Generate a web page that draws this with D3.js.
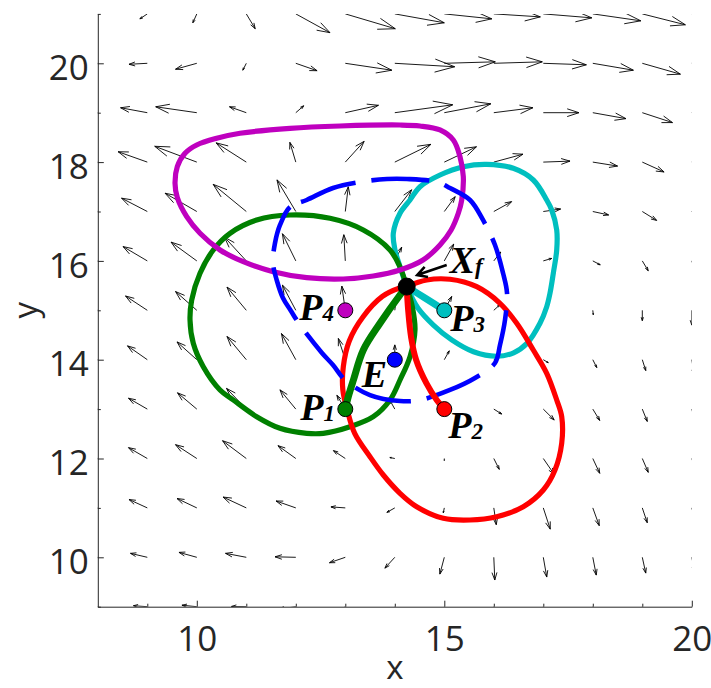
<!DOCTYPE html>
<html>
<head>
<meta charset="utf-8">
<script src="https://cdn.jsdelivr.net/npm/d3@7/dist/d3.min.js"></script>
<style>
  html, body { margin: 0; padding: 0; background: #fff; }
  svg { display: block; }
</style>
</head>
<body>
<svg id="chart" width="711" height="688"></svg>
<script>
// ---- grid of the vector field ----
const gridX = [8, 9, 10, 11, 12, 13, 14, 15, 16, 17, 18, 19, 20];
const gridY = [21, 20, 19, 18, 17, 16, 15, 14, 13, 12, 11, 10, 9];   // top row first

// arrow components (drawn length, data units), one row per gridY value
const arrowU = [
  [-0.15,-0.15,-0.08, 0.18, 0.69, 1.01, 1.00, 0.96, 0.94, 0.98, 0.97, 0.87, 0.80],
  [-0.30,-0.37,-0.43,-0.07, 0.43, 0.94, 1.21, 1.03, 0.98, 0.87, 0.82, 0.77, 0.70],
  [-0.50,-0.54,-0.83,-0.34, 0.16, 0.67, 1.17, 0.94, 0.79, 0.72, 0.67, 0.61, 0.55],
  [-0.55,-0.59,-0.85,-0.61,-0.12, 0.38, 0.73, 0.65, 0.59, 0.54, 0.50, 0.44, 0.40],
  [-0.50,-0.52,-0.64,-0.67,-0.38, 0.06, 0.34, 0.22, 0.36, 0.35, 0.32, 0.29, 0.25],
  [-0.45,-0.49,-0.52,-0.44,-0.27,-0.03, 0.14, 0.19, 0.14, 0.17, 0.15, 0.12, 0.10],
  [-0.45,-0.44,-0.43,-0.39,-0.27,-0.07, 0.02, 0.15, 0.12, 0.06, 0.01, 0.00, 0.00],
  [-0.40,-0.40,-0.40,-0.39,-0.29,-0.14, 0.00, 0.10, 0.08, 0.10, 0.08, 0.07, 0.05],
  [-0.40,-0.38,-0.39,-0.40,-0.32,-0.17,-0.10, 0.02, 0.16, 0.22, 0.14, 0.10, 0.08],
  [-0.40,-0.38,-0.43,-0.48,-0.36,-0.24,-0.10, 0.00, 0.11, 0.22, 0.14, 0.12, 0.10],
  [-0.35,-0.37,-0.40,-0.47,-0.40,-0.29,-0.16,-0.02, 0.05, 0.14, 0.13, 0.10, 0.08],
  [-0.35,-0.34,-0.36,-0.42,-0.42,-0.32,-0.20,-0.09, 0.02, 0.07, 0.07, 0.07, 0.06],
  [-0.30,-0.28,-0.30,-0.30,-0.35,-0.30,-0.20,-0.10, 0.02, 0.04, 0.05, 0.05, 0.05]
];
const arrowV = [
  [ 0.10,-0.10,-0.18,-0.30,-0.38,-0.30,-0.18,-0.10,-0.06,-0.08,-0.14,-0.22,-0.25],
  [ 0.02,-0.02,-0.12,-0.14,-0.15,-0.14,-0.07, 0.03, 0.03,-0.03,-0.14,-0.22,-0.28],
  [ 0.10, 0.10, 0.12, 0.12, 0.14, 0.15, 0.16, 0.18, 0.10, 0.00,-0.12,-0.20,-0.30],
  [ 0.20, 0.21, 0.32, 0.39, 0.40, 0.42, 0.36, 0.31, 0.16, 0.02,-0.08,-0.20,-0.30],
  [ 0.25, 0.27, 0.37, 0.55, 0.64, 0.50, 0.44, 0.30, 0.20, 0.05,-0.07,-0.18,-0.30],
  [ 0.30, 0.29, 0.38, 0.48, 0.55, 0.53, 0.28, 0.34, 0.18, 0.05,-0.08,-0.20,-0.30],
  [ 0.30, 0.29, 0.38, 0.47, 0.51, 0.49, 0.16, 0.28, 0.11, 0.02,-0.09,-0.21,-0.30],
  [ 0.30, 0.28, 0.36, 0.47, 0.53, 0.43, 0.30, 0.18, 0.04,-0.06,-0.16,-0.22,-0.30],
  [ 0.25, 0.22, 0.33, 0.42, 0.39, 0.28, 0.18, 0.04,-0.10,-0.22,-0.23,-0.25,-0.30],
  [ 0.20, 0.22, 0.28, 0.36, 0.26, 0.16, 0.02,-0.04,-0.22,-0.32,-0.30,-0.28,-0.30],
  [ 0.15, 0.17, 0.19, 0.22, 0.14, 0.02,-0.09,-0.10,-0.34,-0.43,-0.36,-0.30,-0.30],
  [ 0.08, 0.08, 0.10, 0.08, 0.01,-0.11,-0.22,-0.34,-0.46,-0.40,-0.36,-0.32,-0.30],
  [ 0.02, 0.02, 0.03, 0.005,-0.05,-0.20,-0.30,-0.40,-0.45,-0.45,-0.40,-0.35,-0.30]
];

// ---- boundary curves [x, y] ----
const loopMagenta = [
  [14.105,18.751],[12.893,18.731],[11.883,18.684],[10.873,18.583],[10.402,18.482],
  [9.998,18.346],[9.762,18.178],[9.606,17.907],[9.560,17.571],[9.606,17.282],
  [9.796,16.895],[10.065,16.559],[10.469,16.221],[10.939,15.984],[11.545,15.781],
  [12.220,15.660],[12.960,15.634],[13.566,15.694],[14.105,15.816],[14.570,16.018],
  [14.913,16.322],[15.135,16.620],[15.283,16.964],[15.352,17.233],[15.384,17.704],
  [15.317,18.109],[15.182,18.447],[14.913,18.650],[14.509,18.731]
];
const loopGreen = [
  [14.24,15.48],[14.105,15.877],[13.903,16.221],[13.364,16.626],[12.691,16.862],
  [11.883,16.929],[11.210,16.828],[10.671,16.559],[10.333,16.221],[10.065,15.749],
  [9.897,15.209],[9.863,14.804],[9.929,14.332],[10.131,13.858],[10.469,13.387],
  [10.737,13.184],[11.210,12.846],[11.681,12.611],[12.220,12.510],[12.556,12.510],
  [13.095,12.644],[13.566,12.846],[13.903,13.184],[14.105,13.589],[14.307,14.061],
  [14.408,14.601],[14.354,15.073],[14.24,15.48]
];
const loopRed = [
  [14.24,15.48],[14.644,15.613],[15.115,15.628],[15.655,15.478],[16.125,15.142],
  [16.463,14.737],[16.798,14.196],[17.069,13.725],[17.271,13.184],[17.372,12.846],
  [17.372,12.308],[17.236,11.767],[17.000,11.362],[16.596,11.024],[16.059,10.822],
  [15.519,10.755],[14.980,10.789],[14.442,11.024],[14.105,11.296],[13.768,11.666],
  [13.499,12.036],[13.19,12.51],[13.04,12.98],[12.95,13.39],[12.96,13.86],
  [13.08,14.38],[13.36,14.87],[13.75,15.28],[14.10,15.45],[14.24,15.48]
];
const loopCyan = [
  [14.24,15.48],[14.47,15.04],[14.78,14.70],[15.15,14.40],[15.59,14.16],
  [16.06,14.07],[16.40,14.14],[16.67,14.33],[16.933,14.737],[17.069,15.073],
  [17.135,15.344],[17.202,15.749],[17.271,16.221],[17.271,16.626],[17.170,17.030],
  [17.069,17.233],[16.798,17.638],[16.394,17.874],[15.857,17.955],[15.384,17.907],
  [14.913,17.739],[14.509,17.502],[14.307,17.233],[14.105,16.964],[13.970,16.559],
  [14.004,16.221],[14.105,15.883],[14.24,15.48]
];
const loopBlue = [
  [12.220,17.233],[11.883,17.091],[11.681,16.727],[11.580,16.362],[11.539,15.957],
  [11.620,15.593],[11.741,15.249],[11.903,14.986],[12.085,14.702],[12.529,14.136],
  [12.752,13.893],[12.994,13.589],[13.499,13.285],[14.105,13.164],[14.509,13.184],
  [15.115,13.387],[15.620,13.630],[16.024,13.933],[16.125,14.298],[16.226,14.804],
  [16.267,15.350],[16.186,15.755],[16.024,16.322],[15.782,16.828],[15.519,17.233],
  [15.115,17.476],[14.853,17.597],[14.246,17.658],[13.842,17.658],[13.297,17.597],
  [12.752,17.476]
];

// ---- trajectories into X_f ----
const pathGreen = [[13,13],[13.06,13.25],[13.164,13.589],[13.364,14.196],[13.701,14.737],[14.105,15.310],[14.24,15.48]];
const pathRed   = [[14.24,15.48],[14.27,15.0],[14.33,14.45],[14.43,14.0],[14.64,13.52],[14.85,13.18],[15,13]];
const pathCyan  = [[14.24,15.48],[14.61,15.25],[15,15]];

// ---- labelled points ----
const pointNames = ["P1", "P2", "P3", "P4", "E", "Xf"];
const pointX = [13, 15, 15, 13, 14, 14.24];
const pointY = [13, 13, 15, 15, 14, 15.48];

// ---- axis ticks ----
const xTicks = [10, 15, 20];
const xMinorTicks = [9, 11, 12, 13, 14, 16, 17, 18, 19];
const yTicks = [10, 12, 14, 16, 18, 20];
const yMinorTicks = [9, 11, 13, 15, 17, 19, 21];

// ---------------------------------------------------------------
const svg = d3.select("#chart");
const x = d3.scaleLinear().domain([8, 20]).range([97.8, 691.8]);
const y = d3.scaleLinear().domain([9, 21]).range([606.7, 13.9]);

svg.append("defs").append("clipPath").attr("id", "plotClip")
  .append("rect")
  .attr("x", x(8)).attr("y", y(21))
  .attr("width", x(20) - x(8)).attr("height", y(9) - y(21));

const plot = svg.append("g").attr("clip-path", "url(#plotClip)");

// vector field: shaft plus two-stroke open head
const arrows = [];
gridY.forEach((gy, i) => gridX.forEach((gx, j) => {
  arrows.push({ gx, gy, u: arrowU[i][j], v: arrowV[i][j] });
}));
const alpha = 0.33, beta = 0.33;
plot.append("g").selectAll("path").data(arrows).join("path")
  .attr("d", a => {
    const tx = a.gx + a.u, ty = a.gy + a.v;
    const h1x = tx - alpha * (a.u + beta * a.v), h1y = ty - alpha * (a.v - beta * a.u);
    const h2x = tx - alpha * (a.u - beta * a.v), h2y = ty - alpha * (a.v + beta * a.u);
    return `M${x(a.gx)},${y(a.gy)}L${x(tx)},${y(ty)}` +
           `M${x(h1x)},${y(h1y)}L${x(tx)},${y(ty)}L${x(h2x)},${y(h2y)}`;
  })
  .attr("fill", "none")
  .attr("stroke", "#000")
  .attr("stroke-width", 0.9);

// curves
const openLine = d3.line().x(d => x(d[0])).y(d => y(d[1])).curve(d3.curveCatmullRom.alpha(0.5));
const closedLine = d3.line().x(d => x(d[0])).y(d => y(d[1])).curve(d3.curveCatmullRomClosed.alpha(0.5));

const curves = plot.append("g").attr("fill", "none").attr("stroke-linejoin", "round");
curves.append("path").attr("d", openLine(loopCyan)).attr("stroke", "#00BFBF").attr("stroke-width", 5.2);
curves.append("path").attr("d", openLine(loopGreen)).attr("stroke", "#008000").attr("stroke-width", 5.2);
curves.append("path").attr("d", openLine(loopRed)).attr("stroke", "#FF0000").attr("stroke-width", 5.2);
curves.append("path").attr("d", closedLine(loopMagenta)).attr("stroke", "#BF00BF").attr("stroke-width", 5.2);
curves.append("path").attr("d", closedLine(loopBlue)).attr("stroke", "#0000FF").attr("stroke-width", 4.6)
  .attr("stroke-dasharray", "58,16").attr("stroke-dashoffset", 10);

curves.append("path").attr("d", openLine(pathCyan)).attr("stroke", "#00BFBF").attr("stroke-width", 7).attr("stroke-linecap", "round");
curves.append("path").attr("d", openLine(pathRed)).attr("stroke", "#FF0000").attr("stroke-width", 6).attr("stroke-linecap", "round");
curves.append("path").attr("d", openLine(pathGreen)).attr("stroke", "#008000").attr("stroke-width", 7).attr("stroke-linecap", "round");

// markers
const markerFill = { P1: "#008000", P2: "#FF0000", P3: "#00BFBF", P4: "#BF00BF", E: "#0000FF", Xf: "#000000" };
const pts = pointNames.map((n, i) => ({ name: n, px: pointX[i], py: pointY[i] }));
svg.append("g").selectAll("circle").data(pts).join("circle")
  .attr("cx", d => x(d.px)).attr("cy", d => y(d.py))
  .attr("r", d => d.name === "Xf" ? 8.5 : 7.5)
  .attr("fill", d => markerFill[d.name])
  .attr("stroke", "#000").attr("stroke-width", 1);

// labels (offsets in pixels from each marker)
const labelSpec = {
  P1: { main: "P", sub: "1", dx: -45, dy: 11 },
  P2: { main: "P", sub: "2", dx: 4, dy: 29 },
  P3: { main: "P", sub: "3", dx: 6, dy: 21 },
  P4: { main: "P", sub: "4", dx: -46, dy: 10 },
  E:  { main: "E", sub: "",  dx: -33, dy: 27 },
  Xf: { main: "X", sub: "f", dx: 43, dy: -14 }
};
const labels = svg.append("g")
  .attr("font-family", "'Liberation Serif', 'Times New Roman', serif")
  .attr("font-weight", "bold").attr("font-style", "italic").attr("fill", "#000");
pts.forEach(p => {
  const s = labelSpec[p.name];
  const t = labels.append("text")
    .attr("x", x(p.px) + s.dx).attr("y", y(p.py) + s.dy)
    .attr("font-size", 38);
  t.append("tspan").text(s.main);
  if (s.sub) t.append("tspan").attr("font-size", 23).attr("dy", 1).text(s.sub);
});

// pointer from the X_f label to its marker
const xf = pts.find(p => p.name === "Xf");
const ax0 = x(xf.px) + 40, ay0 = y(xf.py) - 21.5;
const ax1 = x(xf.px) + 10.5, ay1 = y(xf.py) - 11.5;
const ang = Math.atan2(ay1 - ay0, ax1 - ax0), hl = 11, hw = 0.5;
svg.append("path")
  .attr("d", `M${ax0},${ay0}L${ax1},${ay1}` +
    `M${ax1 - hl * Math.cos(ang - hw)},${ay1 - hl * Math.sin(ang - hw)}L${ax1},${ay1}` +
    `L${ax1 - hl * Math.cos(ang + hw)},${ay1 - hl * Math.sin(ang + hw)}`)
  .attr("fill", "none").attr("stroke", "#000").attr("stroke-width", 2.6)
  .attr("stroke-linejoin", "miter");

// axes (ticks point inward)
const axisColor = "#262626";
const tickFont = "'Open Sans', 'Noto Sans', sans-serif";

const gx = svg.append("g").attr("transform", `translate(0,${y(9)})`)
  .call(d3.axisBottom(x).tickValues(xTicks).tickSize(-6).tickSizeOuter(0).tickPadding(19));
svg.append("g").attr("transform", `translate(0,${y(9)})`)
  .call(d3.axisBottom(x).tickValues(xMinorTicks).tickSize(-3).tickFormat(""))
  .call(g => g.select(".domain").remove());

const gy = svg.append("g").attr("transform", `translate(${x(8)},0)`)
  .call(d3.axisLeft(y).tickValues(yTicks).tickSize(-6).tickSizeOuter(0).tickPadding(9));
svg.append("g").attr("transform", `translate(${x(8)},0)`)
  .call(d3.axisLeft(y).tickValues(yMinorTicks).tickSize(-3).tickFormat(""))
  .call(g => g.select(".domain").remove());

svg.selectAll(".domain, .tick line").attr("stroke", axisColor).attr("stroke-width", 1);
[gx, gy].forEach(g => g.selectAll("text")
  .attr("fill", axisColor).attr("font-family", tickFont).attr("font-size", 35));
gy.selectAll("text").attr("dy", "0.46em");

// axis titles
svg.append("text")
  .attr("x", (x(8) + x(20)) / 2).attr("y", 679)
  .attr("text-anchor", "middle")
  .attr("font-family", tickFont).attr("font-size", 33).attr("fill", axisColor)
  .text("x");
svg.append("text")
  .attr("transform", `translate(37,${(y(9) + y(21)) / 2}) rotate(-90)`)
  .attr("text-anchor", "middle")
  .attr("font-family", tickFont).attr("font-size", 33).attr("fill", axisColor)
  .text("y");
</script>
</body>
</html>
